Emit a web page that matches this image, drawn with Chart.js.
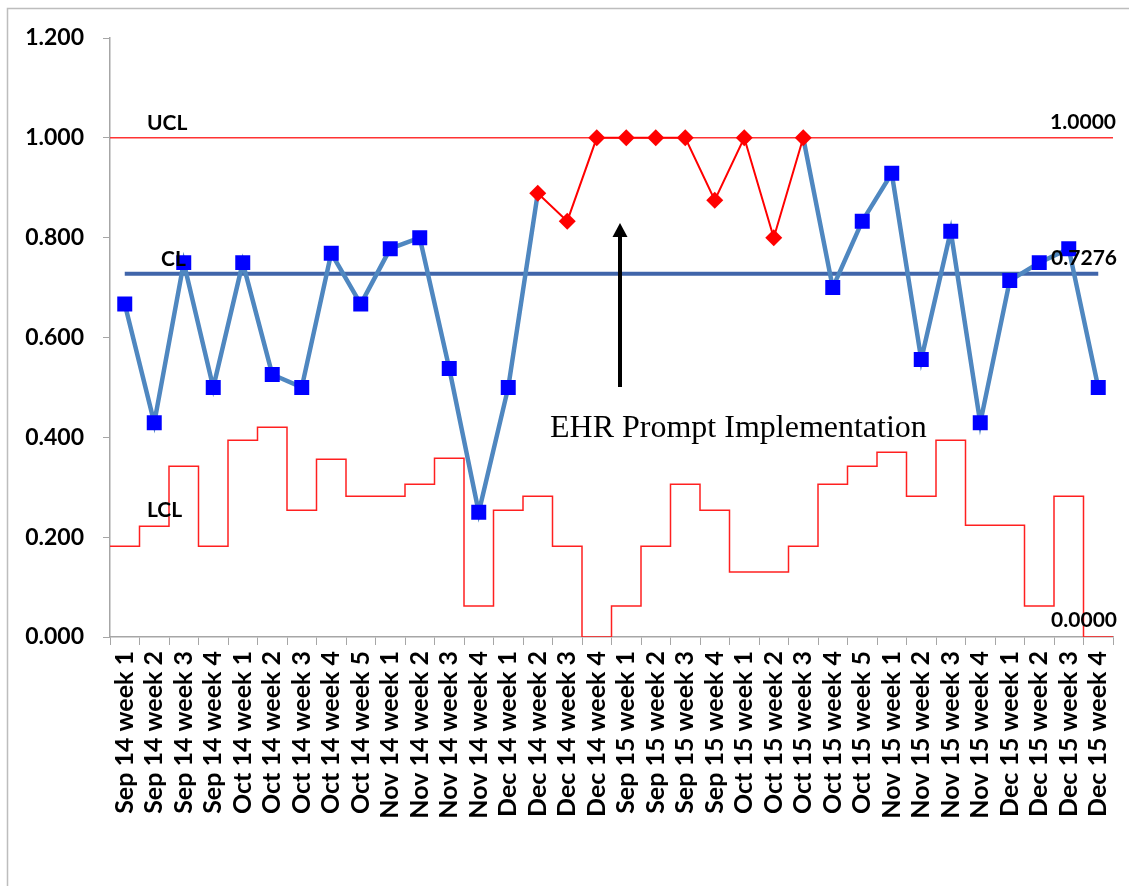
<!DOCTYPE html>
<html><head><meta charset="utf-8">
<script src="https://cdn.jsdelivr.net/npm/chart.js@4/dist/chart.umd.min.js"></script>
<style>html,body{margin:0;padding:0;background:#fff;overflow:hidden}</style>
</head><body>
<canvas id="c" width="1129" height="886"></canvas>
<script>
const categories = [
  'Sep 14 week 1','Sep 14 week 2','Sep 14 week 3','Sep 14 week 4',
  'Oct 14 week 1','Oct 14 week 2','Oct 14 week 3','Oct 14 week 4','Oct 14 week 5',
  'Nov 14 week 1','Nov 14 week 2','Nov 14 week 3','Nov 14 week 4',
  'Dec 14 week 1','Dec 14 week 2','Dec 14 week 3','Dec 14 week 4',
  'Sep 15 week 1','Sep 15 week 2','Sep 15 week 3','Sep 15 week 4',
  'Oct 15 week 1','Oct 15 week 2','Oct 15 week 3','Oct 15 week 4','Oct 15 week 5',
  'Nov 15 week 1','Nov 15 week 2','Nov 15 week 3','Nov 15 week 4',
  'Dec 15 week 1','Dec 15 week 2','Dec 15 week 3','Dec 15 week 4'
];
const proportion = [
  0.667, 0.429, 0.750, 0.500,
  0.750, 0.526, 0.500, 0.769, 0.667,
  0.778, 0.800, 0.538, 0.250,
  0.500, 0.889, 0.833, 1.000,
  1.000, 1.000, 1.000, 0.875,
  1.000, 0.800, 1.000, 0.700, 0.833,
  0.929, 0.556, 0.813, 0.429,
  0.714, 0.750, 0.778, 0.500
];
const signal = [
  null, null, null, null,
  null, null, null, null, null,
  null, null, null, null,
  null, 0.889, 0.833, 1.000,
  1.000, 1.000, 1.000, 0.875,
  1.000, 0.800, 1.000, null, null,
  null, null, null, null,
  null, null, null, null
];
const lcl = [
  0.182, 0.222, 0.342, 0.182,
  0.394, 0.420, 0.254, 0.356, 0.282,
  0.282, 0.306, 0.358, 0.062,
  0.254, 0.282, 0.182, 0.000,
  0.062, 0.182, 0.306, 0.254,
  0.130, 0.130, 0.182, 0.306, 0.342,
  0.370, 0.282, 0.394, 0.224,
  0.224, 0.062, 0.282, 0.000
];
const ucl = 1.0;
const cl = 0.7276;
const yMin = 0, yMax = 1.2, yStep = 0.2;
const annotationText = 'EHR Prompt Implementation';

const n = categories.length;
const lclSteps = lcl.map((v, i) => ({x: i - 0.5, y: v}));
lclSteps.push({x: n - 0.5, y: lcl[n - 1]});
const uclLine = [{x: -0.5, y: ucl}, {x: n - 0.5, y: ucl}];
const clLine = [{x: 0, y: cl}, {x: n - 1, y: cl}];

const labelFont = 'bold 21px Lato';
const overlay = {
  id: 'overlay',
  beforeDraw(chart) {
    const ctx = chart.ctx;
    ctx.save();
    ctx.strokeStyle = '#BDBDBD';
    ctx.lineWidth = 1.5;
    ctx.beginPath();
    ctx.moveTo(7.5, 900); ctx.lineTo(7.5, 8.5); ctx.lineTo(1140, 8.5);
    ctx.stroke();
    ctx.restore();
  },
  afterDraw(chart) {
    const ctx = chart.ctx;
    const y = chart.scales.y;
    const a = chart.chartArea;
    ctx.save();
    ctx.fillStyle = '#000';
    ctx.font = labelFont;
    ctx.textBaseline = 'alphabetic';
    ctx.textAlign = 'left';
    ctx.fillText('UCL', a.left + 37, y.getPixelForValue(ucl) - 8);
    ctx.fillText('CL', a.left + 51, y.getPixelForValue(cl) - 8);
    ctx.fillText('LCL', a.left + 37, y.getPixelForValue(lcl[0]) - 29);
    ctx.textAlign = 'right';
    ctx.fillText(ucl.toFixed(4), a.right + 3, y.getPixelForValue(ucl) - 9);
    ctx.fillText(cl.toFixed(4), a.right + 4, y.getPixelForValue(cl) - 9);
    ctx.fillText((0).toFixed(4), a.right + 4, y.getPixelForValue(0) - 10);
    // annotation
    ctx.font = '32px "Liberation Serif"';
    ctx.textAlign = 'left';
    ctx.fillText(annotationText, 550, 437);
    // arrow
    const ax = 620, ay0 = 387, ay1 = 223;
    ctx.strokeStyle = '#000';
    ctx.lineWidth = 4;
    ctx.beginPath();
    ctx.moveTo(ax, ay0); ctx.lineTo(ax, ay1 + 12);
    ctx.stroke();
    ctx.beginPath();
    ctx.moveTo(ax, ay1); ctx.lineTo(ax - 7.5, ay1 + 14); ctx.lineTo(ax + 7.5, ay1 + 14);
    ctx.closePath();
    ctx.fill();
    ctx.restore();
  }
};

new Chart(document.getElementById('c'), {
  type: 'line',
  data: {
    labels: categories,
    datasets: [
      {
        label: 'Signal', data: signal, xAxisID: 'x', order: 0,
        borderColor: '#FF0000', borderWidth: 2, spanGaps: false,
        pointStyle: 'rectRot', pointRadius: 8.5, pointHoverRadius: 8.5,
        pointBackgroundColor: '#FF0000', pointBorderColor: '#FF0000', pointBorderWidth: 0
      },
      {
        label: 'Proportion', data: proportion, xAxisID: 'x', order: 1,
        borderColor: '#4F87C0', borderWidth: 4.5,
        pointStyle: 'rect',
        pointRadius: ctx => signal[ctx.dataIndex] != null ? 0 : 10.6,
        pointHoverRadius: ctx => signal[ctx.dataIndex] != null ? 0 : 10.6,
        pointBackgroundColor: '#0000FF', pointBorderColor: '#0000FF', pointBorderWidth: 0,
        segment: {
          borderColor: ctx => (signal[ctx.p0DataIndex] != null && signal[ctx.p1DataIndex] != null) ? 'rgba(0,0,0,0)' : undefined
        }
      },
      {
        label: 'CL', data: clLine, xAxisID: 'x2', order: 2,
        borderColor: '#4065AA', borderWidth: 4, pointRadius: 0, pointHoverRadius: 0
      },
      {
        label: 'UCL', data: uclLine, xAxisID: 'x2', order: 3,
        borderColor: '#FF3333', borderWidth: 1.5, pointRadius: 0, pointHoverRadius: 0
      },
      {
        label: 'LCL', data: lclSteps, xAxisID: 'x2', order: 4, stepped: true,
        borderColor: '#FF2020', borderWidth: 1.5, pointRadius: 0, pointHoverRadius: 0
      }
    ]
  },
  options: {
    responsive: false, animation: false, events: [],
    layout: {padding: {top: 38, right: 16, left: 0, bottom: 0}},
    plugins: {legend: {display: false}, tooltip: {enabled: false}},
    scales: {
      x: {
        type: 'category', offset: true,
        grid: {offset: true, drawOnChartArea: false, drawTicks: true, tickLength: 8, color: '#A6A6A6'},
        border: {color: '#A6A6A6', width: 1.5},
        ticks: {autoSkip: false, maxRotation: 90, minRotation: 90, color: '#000', padding: 6,
          font: {family: 'Lato', weight: 'bold', size: 25}},
        afterFit(s) { s.height = 249; s.paddingLeft = 0; s.paddingRight = 0; }
      },
      x2: {type: 'linear', display: false, min: -0.5, max: n - 0.5},
      y: {
        min: yMin, max: yMax,
        grid: {drawOnChartArea: false, drawTicks: true, tickLength: 7, color: '#A6A6A6'},
        border: {color: '#A6A6A6', width: 1.5},
        ticks: {stepSize: yStep, color: '#000', padding: 19, callback: v => Number(v).toFixed(3),
          font: {family: 'Lato', weight: 'bold', size: 23}},
        afterFit(s) { s.width = 110; }
      }
    }
  },
  plugins: [overlay]
});
</script>
</body></html>
